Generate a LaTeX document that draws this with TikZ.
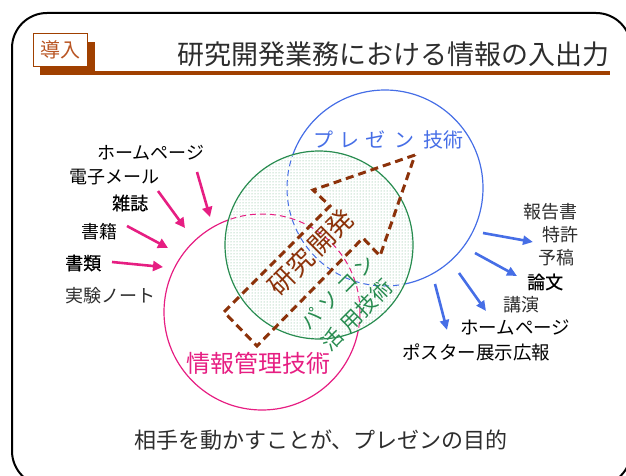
\documentclass[tikz,border=0pt]{standalone}
\usepackage{fontspec}
\setmainfont{Noto Sans CJK JP}
\newfontfamily\semibold[FakeBold=0.6]{Noto Sans CJK JP}
\usetikzlibrary{arrows.meta,patterns}
\definecolor{tbrown}{RGB}{160,64,0}
\definecolor{introtxt}{RGB}{185,85,35}
\definecolor{dbrown}{RGB}{140,50,10}
\definecolor{cpink}{RGB}{230,30,130}
\definecolor{cblue}{RGB}{70,110,230}
\definecolor{cgreen}{RGB}{40,140,80}
\definecolor{gdot}{RGB}{110,180,135}
\definecolor{txtgray}{RGB}{45,45,45}
\tikzset{
  fs/.style={font=\fontsize{#1}{#1}\selectfont},
  lbl/.style={inner sep=0pt, anchor=west, fs=18},
  sblbl/.style={inner sep=0pt, anchor=west, font=\fontsize{18}{18}\selectfont\semibold},
  pinkarrow/.style={draw=cpink, line width=2.6pt, -{Triangle[length=10pt,width=10pt]}},
  bluearrow/.style={draw=cblue, line width=2.6pt, -{Triangle[length=10pt,width=9pt]}},
  brownpoly/.style={draw=dbrown, line width=3pt, dash pattern=on 8pt off 5pt},
}
\begin{document}
\begin{tikzpicture}[x=1pt,y=-1pt]
\useasboundingbox (0,0) rectangle (626,476);
% frame
\draw[line width=2pt, rounded corners=35pt] (12,13) rectangle (631,486);
% title bar
\fill[tbrown] (40,42) rectangle (95,73);
\fill[tbrown] (40,71) rectangle (610,75);
\node[draw=tbrown, fill=white, line width=0.8pt, minimum width=54pt, minimum height=33pt, inner sep=0pt, text=introtxt, fs=20] (intro) at (60,50) {導入};
\node[inner sep=0pt, text=txtgray, fs=27] (title) at (393,54) {研究開発業務における情報の入出力};
% circles (solid)
\draw[cblue, line width=1.2pt] (385,188) circle[radius=98pt];
\draw[cpink, line width=1.2pt] (262,312) circle[radius=98pt];
% green circle
\fill[white] (319,245) circle[radius=94pt];
\fill[pattern=dots, pattern color=gdot] (319,245) circle[radius=94pt];
\draw[cgreen, line width=1.2pt] (319,245) circle[radius=94pt];
\begin{scope}
  \clip (319,245) circle[radius=93pt];
  \draw[cblue, line width=1pt, dash pattern=on 6pt off 4pt] (385,188) circle[radius=98pt];
  \draw[cpink, line width=1pt, dash pattern=on 6pt off 4pt] (262,312) circle[radius=98pt];
\end{scope}
% brown dashed arrow-shaped outline
\coordinate (pa) at (415,155);
\coordinate (pb) at (313,190);
\coordinate (pc) at (330,206);
\coordinate (pd) at (224,312);
\coordinate (pe) at (257,346);
\coordinate (pg) at (363,238);
\coordinate (pf) at (380,256);
\draw[brownpoly] (pa) -- (pb) -- (pc) -- (pd) -- (pe) -- (pg) -- (pf) -- cycle;
% circle labels
\node[inner sep=0pt, anchor=west, text=cblue, fs=20] (pres) at (313,140) {プ\hspace{6pt}レ\hspace{6pt}ゼ\hspace{9pt}ン\hspace{9pt}技術};
\node[inner sep=0pt, text=dbrown, fs=26, rotate=45] (rd) at (311,252) {研究\hspace{4pt}開発};
\node[inner sep=0pt, text=cgreen, fs=20, rotate=45] (pc1) at (338,292) {パ\hspace{5pt}ソ\hspace{5pt}コ\hspace{5pt}ン};
\node[inner sep=0pt, text=cgreen, fs=21, rotate=45] (pc2) at (357,315) {活\hspace{6pt}用技術};
\node[inner sep=0pt, anchor=west, text=cpink, fs=24] (info) at (186,363) {情報管理技術};
% left inputs
\node[lbl] (in1) at (97,153) {ホームページ};
\node[lbl] (in2) at (69,177) {電子メール};
\node[sblbl] (in3) at (112,203) {雑誌};
\node[lbl] (in4) at (81,232) {書籍};
\node[sblbl] (in5) at (65,263) {書類};
\node[lbl, text=txtgray] (in6) at (65,296) {実験ノート};
\coordinate (pa1s) at (197,172); \coordinate (pa1e) at (210,217);
\coordinate (pa2s) at (158,191); \coordinate (pa2e) at (185,228);
\coordinate (pa3s) at (127,226); \coordinate (pa3e) at (168,248);
\coordinate (pa4s) at (112,262); \coordinate (pa4e) at (163,267);
\draw[pinkarrow] (pa1s) -- (pa1e);
\draw[pinkarrow] (pa2s) -- (pa2e);
\draw[pinkarrow] (pa3s) -- (pa3e);
\draw[pinkarrow] (pa4s) -- (pa4e);
% right outputs
\node[lbl, text=txtgray] (out1) at (523,212) {報告書};
\node[lbl, text=txtgray] (out2) at (542,235) {特許};
\node[lbl, text=txtgray] (out3) at (538,258) {予稿};
\node[sblbl] (out4) at (527,282) {論文};
\node[lbl, text=txtgray] (out5) at (503,305) {講演};
\node[lbl, fs=18.5] (out6) at (460,327) {ホームページ};
\node[lbl, fs=18.5] (out7) at (402,352) {ポスター展示広報};
\coordinate (ba1s) at (483,233); \coordinate (ba1e) at (533,242);
\coordinate (ba2s) at (475,253); \coordinate (ba2e) at (517,276);
\coordinate (ba3s) at (459,273); \coordinate (ba3e) at (486,311);
\coordinate (ba4s) at (435,284); \coordinate (ba4e) at (447,330);
\draw[bluearrow] (ba1s) -- (ba1e);
\draw[bluearrow] (ba2s) -- (ba2e);
\draw[bluearrow] (ba3s) -- (ba3e);
\draw[bluearrow] (ba4s) -- (ba4e);
% bottom
\node[inner sep=0pt, text=txtgray, fs=22] (goal) at (321,440) {相手を動かすことが、プレゼンの目的};
\end{tikzpicture}
\end{document}
